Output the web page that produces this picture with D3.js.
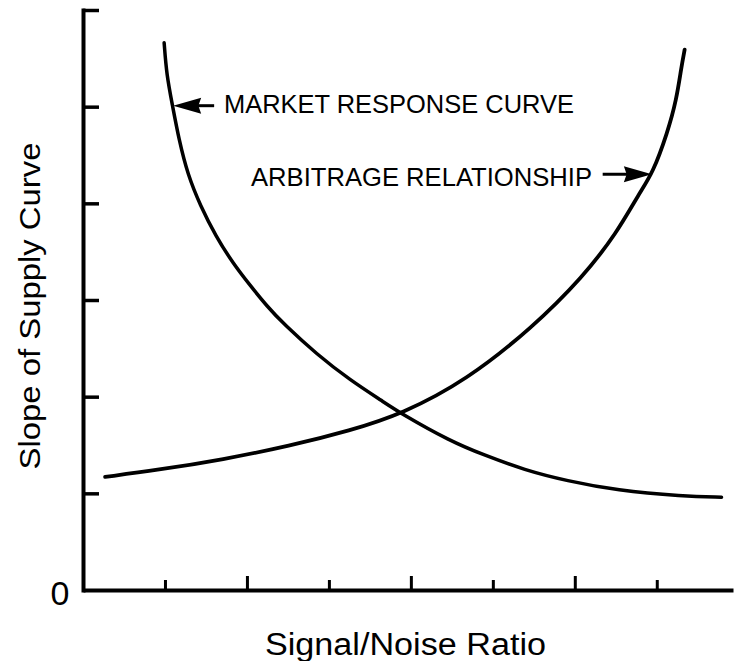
<!DOCTYPE html>
<html>
<head>
<meta charset="utf-8">
<script src="https://cdn.jsdelivr.net/npm/d3@7"></script>
<style>
  body { margin: 0; background: white; }
  text { font-family: "Liberation Sans", Arial, sans-serif; fill: black; }
</style>
</head>
<body>
<div id="container"></div>
<script>
// values (axis units: x ticks 1..7, y ticks 1..6)
let marketX = [0.99, 1.02, 1.09, 1.17, 1.28, 1.43, 1.62, 1.83, 2.04, 2.24, 2.45, 2.85, 3.26, 3.66, 3.89, 4.48, 4.88, 5.39, 5.90, 6.51, 7.32, 7.79];
let marketY = [5.66, 5.33, 5.02, 4.66, 4.29, 3.98, 3.66, 3.38, 3.15, 2.94, 2.75, 2.44, 2.17, 1.95, 1.82, 1.54, 1.40, 1.24, 1.13, 1.03, 0.97, 0.96];

let arbX = [0.27, 0.90, 1.71, 2.52, 3.26, 3.89, 4.68, 5.49, 6.10, 6.51, 6.79, 6.95, 7.13, 7.24, 7.30, 7.34];
let arbY = [1.17, 1.24, 1.35, 1.49, 1.65, 1.82, 2.17, 2.72, 3.24, 3.69, 4.11, 4.31, 4.73, 5.07, 5.41, 5.59];

let xTicks = [1, 2, 3, 4, 5, 6, 7];
let yTicks = [1, 2, 3, 4, 5, 6];

let labels = ["MARKET RESPONSE CURVE", "ARBITRAGE RELATIONSHIP"];
let labelX = [1.72, 2.05];
let labelY = [4.93, 4.18];
// arrows: tail and tip in axis units
let arrowTailX = [1.60, 6.34];
let arrowTipX = [1.10, 6.94];
let arrowYv = [5.01, 4.30];

let w = 734;
let h = 661;

let viz = d3.select("#container")
  .append("svg")
    .attr("width", w)
    .attr("height", h)
    .style("background-color", "white")
;

let xScale = d3.scaleLinear().domain([0, 7.93]).range([83, 733]);
let yScale = d3.scaleLinear().domain([0, 6]).range([590, 10]);

// X axis, ticks pointing up, alternating long/short
let xAxis = d3.axisBottom(xScale)
  .tickValues(xTicks)
  .tickSize(-14)
  .tickSizeOuter(0)
  .tickFormat("");
let xAxisGroup = viz.append("g")
    .attr("class", "xaxis")
    .attr("transform", "translate(0," + yScale(0) + ")")
    .call(xAxis);
xAxisGroup.selectAll(".tick line")
    .attr("y2", function(d) { return d % 2 == 0 ? -14 : -10; })
    .attr("stroke-width", 3);
xAxisGroup.select(".domain").attr("stroke-width", 4);

// Y axis, ticks pointing right
let yAxis = d3.axisLeft(yScale)
  .tickValues(yTicks)
  .tickSize(-16)
  .tickSizeOuter(0)
  .tickFormat("");
let yAxisGroup = viz.append("g")
    .attr("class", "yaxis")
    .attr("transform", "translate(" + xScale(0) + ",0)")
    .call(yAxis);
yAxisGroup.selectAll(".tick line").attr("stroke-width", 3.5);
yAxisGroup.select(".domain")
    .attr("stroke-width", 4)
    .attr("stroke-linecap", "square");

// zero label
viz.append("text")
    .attr("x", 60)
    .attr("y", yScale(0) + 6)
    .attr("text-anchor", "middle")
    .attr("dominant-baseline", "middle")
    .style("font-size", "34px")
    .text("0");

// axis titles
viz.append("text")
    .attr("x", 265)
    .attr("y", 655)
    .attr("textLength", 281)
    .attr("lengthAdjust", "spacingAndGlyphs")
    .style("font-size", "31px")
    .text("Signal/Noise Ratio");

viz.append("text")
    .attr("transform", "translate(40,306) rotate(-90)")
    .attr("text-anchor", "middle")
    .attr("textLength", 327)
    .attr("lengthAdjust", "spacingAndGlyphs")
    .style("font-size", "30px")
    .text("Slope of Supply Curve");

// curves
let line = d3.line()
  .x(function(d) { return xScale(d[0]); })
  .y(function(d) { return yScale(d[1]); })
  .curve(d3.curveBasis);

let market = d3.zip(marketX, marketY);
let arbitrage = d3.zip(arbX, arbY);

viz.append("path")
    .datum(market)
    .attr("d", line)
    .attr("fill", "none")
    .attr("stroke", "black")
    .attr("stroke-width", 3.5)
    .attr("stroke-linecap", "round");

viz.append("path")
    .datum(arbitrage)
    .attr("d", line)
    .attr("fill", "none")
    .attr("stroke", "black")
    .attr("stroke-width", 3.8)
    .attr("stroke-linecap", "round");

// annotation labels
viz.selectAll(".annot").data(labels).enter()
  .append("text")
    .attr("class", "annot")
    .attr("x", function(d, i) { return xScale(labelX[i]); })
    .attr("y", function(d, i) { return yScale(labelY[i]); })
    .attr("textLength", function(d, i) { return i == 0 ? 350 : 341; })
    .attr("lengthAdjust", "spacingAndGlyphs")
    .style("font-size", "25px")
    .text(function(d) { return d; });

// arrows
for (let i = 0; i < 2; i++) {
  let x0 = xScale(arrowTailX[i]);
  let x1 = xScale(arrowTipX[i]);
  let y = yScale(arrowYv[i]);
  let dir = x1 > x0 ? 1 : -1;
  let headLen = 28;
  let half = 8;
  viz.append("line")
      .attr("x1", x0).attr("y1", y)
      .attr("x2", x1 - dir * headLen * 0.6).attr("y2", y)
      .attr("stroke", "black")
      .attr("stroke-width", 3);
  viz.append("path")
      .attr("d", "M" + x1 + "," + y +
        " L" + (x1 - dir * headLen) + "," + (y - half) +
        " L" + (x1 - dir * headLen * 0.9) + "," + y +
        " L" + (x1 - dir * headLen) + "," + (y + half) + " Z")
      .attr("fill", "black");
}
</script>
</body>
</html>
